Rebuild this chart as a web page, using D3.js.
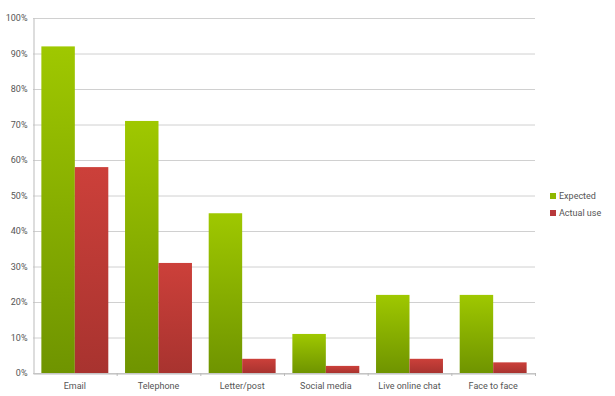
<!DOCTYPE html>
<html>
<head>
<meta charset="utf-8">
<script src="https://cdn.jsdelivr.net/npm/d3@7"></script>
<style>
  body { margin: 0; background: #fff; }
  text { font-family: Roboto, "DejaVu Sans", sans-serif; fill: #555; }
</style>
</head>
<body>
<script>
// chart data
const categories = ["Email", "Telephone", "Letter/post", "Social media", "Live online chat", "Face to face"];
const seriesNames = ["Expected", "Actual use"];
const expected = [92, 71, 45, 11, 22, 22];
const actualUse = [58, 31, 4, 2, 4, 3];
const yTicks = [0, 10, 20, 30, 40, 50, 60, 70, 80, 90, 100];

const width = 615, height = 396;
const margin = { top: 18, right: 80, bottom: 23, left: 33 };

const svg = d3.select("body").append("svg")
  .attr("width", width)
  .attr("height", height);

//gradients for the bars
const defs = svg.append("defs");
const gradients = [
  { id: "gGreen", top: "#9fc800", bottom: "#6f9400" },
  { id: "gRed", top: "#cc403a", bottom: "#a8332f" }
];
gradients.forEach(g => {
  const lg = defs.append("linearGradient")
    .attr("id", g.id)
    .attr("x1", 0).attr("y1", 0).attr("x2", 0).attr("y2", 1);
  lg.append("stop").attr("offset", "0%").attr("stop-color", g.top);
  lg.append("stop").attr("offset", "100%").attr("stop-color", g.bottom);
});

const x = d3.scaleBand()
  .domain(categories)
  .range([margin.left, width - margin.right])
  .paddingInner(0.2)
  .paddingOuter(0.1);

const x1 = d3.scaleBand()
  .domain(seriesNames)
  .range([0, x.bandwidth()]);

const y = d3.scaleLinear()
  .domain([0, 100])
  .range([height - margin.bottom, margin.top]);

//grid lines
svg.append("g")
  .selectAll("line")
  .data(yTicks)
  .join("line")
  .attr("x1", margin.left)
  .attr("x2", width - margin.right)
  .attr("y1", d => y(d) + 0.5)
  .attr("y2", d => y(d) + 0.5)
  .attr("stroke", "#d0d0d0");

//y axis
const yAxis = svg.append("g")
  .attr("transform", `translate(${margin.left + 0.5},0)`)
  .call(d3.axisLeft(y).tickValues(yTicks).tickSize(0).tickPadding(6).tickFormat(d => d + "%"));
yAxis.select(".domain").attr("stroke", "#bbb");
yAxis.selectAll("text").attr("font-size", 9).attr("fill", "#666");

//x axis
const xAxis = svg.append("g")
  .attr("transform", `translate(0,${height - margin.bottom + 0.5})`)
  .call(d3.axisBottom(x).tickSize(0).tickPadding(9));
xAxis.select(".domain").attr("stroke", "#bbb");
xAxis.selectAll("text").attr("font-size", 9).attr("fill", "#555");

//small ticks between categories
const plotW = width - margin.right - margin.left;
svg.append("g")
  .selectAll("line")
  .data(d3.range(1, categories.length + 1))
  .join("line")
  .attr("x1", i => margin.left + plotW * i / categories.length + 0.5)
  .attr("x2", i => margin.left + plotW * i / categories.length + 0.5)
  .attr("y1", y(0))
  .attr("y2", y(0) + 3)
  .attr("stroke", "#bbb");

//bars
const series = [
  { name: "Expected", values: expected, fill: "url(#gGreen)" },
  { name: "Actual use", values: actualUse, fill: "url(#gRed)" }
];
series.forEach(s => {
  svg.append("g")
    .selectAll("rect")
    .data(s.values)
    .join("rect")
    .attr("x", (d, i) => x(categories[i]) + x1(s.name))
    .attr("y", d => y(d))
    .attr("width", x1.bandwidth())
    .attr("height", d => y(0) - y(d))
    .attr("fill", s.fill);
});

//legend
const legendColors = ["#8fb800", "#b8383a"];
const legend = svg.append("g")
  .attr("transform", `translate(550,193)`);
seriesNames.forEach((n, i) => {
  const row = legend.append("g").attr("transform", `translate(0,${i * 17})`);
  row.append("rect").attr("width", 6).attr("height", 6).attr("fill", legendColors[i]);
  row.append("text").attr("x", 9).attr("y", 6).attr("font-size", 9).attr("fill", "#555").text(n);
});
</script>
</body>
</html>
